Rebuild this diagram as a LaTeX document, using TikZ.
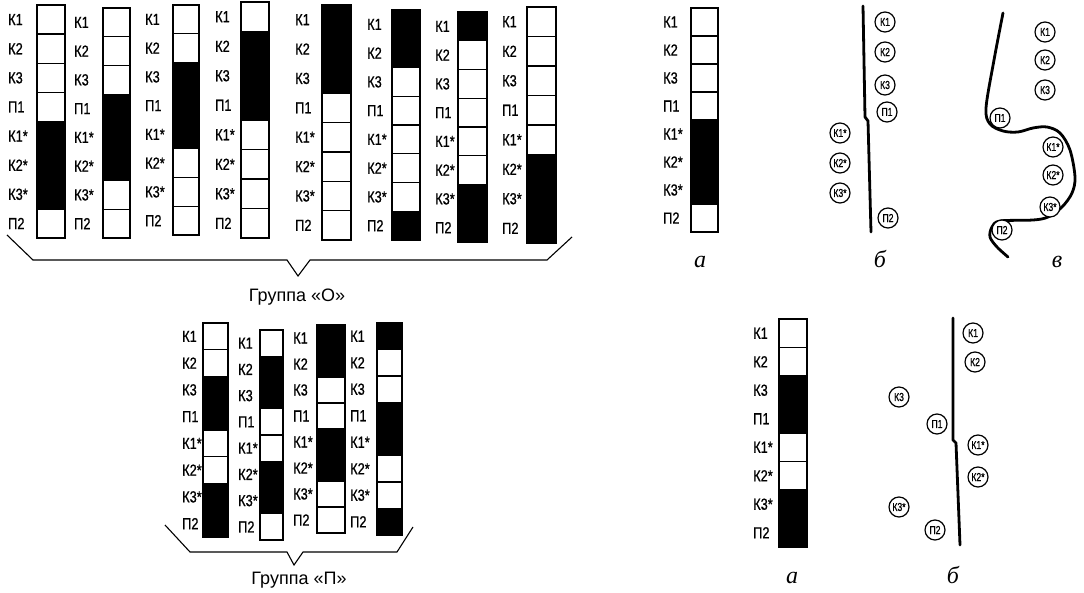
\documentclass[tikz,border=0pt]{standalone}
\usepackage{fontspec}
\setmainfont{Liberation Sans}
\newfontfamily\lblfont[FakeStretch=0.8,FakeBold=0.8]{Liberation Sans}
\newfontfamily\cfont[FakeStretch=0.75,FakeBold=0.8]{Liberation Sans}
\newfontfamily\itfont{Liberation Serif}
\tikzset{
  cell/.style={draw=black, line width=1.4pt},
  lbl/.style={anchor=west, inner sep=0pt, font=\lblfont\fontsize{16}{16}\selectfont},
  circ/.style={circle, draw=black, line width=1.2pt, fill=white, minimum size=20pt, inner sep=0pt, font=\cfont\fontsize{11.5}{11.5}\selectfont},
  fold/.style={line width=2.8pt, line cap=round, line join=round},
  brace/.style={line width=1.1pt, line join=miter},
  grp/.style={font=\fontsize{18}{18}\selectfont, inner sep=0pt},
  letter/.style={font=\itfont\itshape\fontsize{24}{24}\selectfont, anchor=base, inner sep=0pt},
}
% #1 x0, #2 x1, #3 ytop, #4 ybot, #5 label x, #6 pattern, #7 name
\newcommand{\stripcol}[7]{%
  \foreach \v [count=\i] in {#6} {%
    \pgfmathsetmacro{\ya}{#3+(\i-1)*(#4-#3)/8}%
    \pgfmathsetmacro{\yb}{#3+\i*(#4-#3)/8}%
    \ifnum\v=1 \filldraw[cell,fill=black] (#1,\ya) rectangle (#2,\yb);\else \draw[cell,fill=white] (#1,\ya) rectangle (#2,\yb);\fi
  }%
  \foreach \t [count=\i] in {К1,К2,К3,П1,К1*,К2*,К3*,П2} {%
    \pgfmathsetmacro{\yc}{#3+(\i-0.5)*(#4-#3)/8}%
    \node[lbl] (#7l\i) at (#5,\yc) {\t};
  }%
}
\begin{document}
\begin{tikzpicture}[x=1pt,y=-1pt]
\useasboundingbox (0,0) rectangle (1084,593);
\fill[white] (0,0) rectangle (1084,593);

% Group O
\stripcol{37}{65}{5}{238}{8}{0,0,0,0,1,1,1,0}{oa}
\stripcol{103}{130}{8}{238}{74}{0,0,0,1,1,1,0,0}{ob}
\stripcol{173}{199}{5}{235}{145}{0,0,1,1,1,0,0,0}{oc}
\stripcol{241}{269}{2}{238}{215}{0,1,1,1,0,0,0,0}{od}
\stripcol{322}{351}{5}{240}{295}{1,1,1,0,0,0,0,0}{oe}
\stripcol{392}{420}{10}{240}{367}{1,1,0,0,0,0,0,1}{of}
\stripcol{458}{487}{12}{242}{435}{1,0,0,0,0,0,1,1}{og}
\stripcol{527}{556}{7}{243}{502}{0,0,0,0,0,1,1,1}{oh}
\draw[brace] (7,235) -- (33,260) -- (287,260) -- (298,276) -- (310,260) -- (547,260) -- (572,237);
\node[grp] (go) at (297,297) {Группа «О»};

% Group P
\stripcol{203}{228}{323}{537}{182}{0,0,1,1,0,0,1,1}{pa}
\stripcol{260}{283}{330}{540}{238}{0,1,1,0,0,1,1,0}{pb}
\stripcol{317}{345}{325}{533}{293}{1,1,0,0,1,1,0,0}{pc}
\stripcol{377}{402}{323}{535}{350}{1,0,0,1,1,0,0,1}{pd}
\draw[brace] (165,525) -- (190,552) -- (287,552) -- (294,565) -- (303,552) -- (397,552) -- (413,527);
\node[grp] (gp) at (299,580) {Группа «П»};

% Right top: a
\stripcol{691}{718}{8}{232}{663}{0,0,0,0,1,1,1,0}{ra}
\node[letter] (la1) at (700,268) {а};

% Right top: b
\draw[fold] (863,6) -- (865,117) -- (868,121) -- (871,232);
\node[circ] (tb1) at (885,22) {К1};
\node[circ] (tb2) at (885,52) {К2};
\node[circ] (tb3) at (885,85) {К3};
\node[circ] (tb4) at (887,112) {П1};
\node[circ] (tb5) at (840,133) {К1*};
\node[circ] (tb6) at (840,163) {К2*};
\node[circ] (tb7) at (840,193) {К3*};
\node[circ] (tb8) at (888,218) {П2};
\node[letter] (lb1) at (880,268) {б};

% Right top: v
\draw[fold] plot[smooth, tension=0.55] coordinates {(1003,13) (994,60) (986,108) (990,124) (1003,131) (1018,132) (1033,128) (1047,127) (1060,133) (1070,150) (1075,177) (1072,193) (1062,207) (1048,217) (1033,220) (1000,221) (992,227) (990,237) (997,247) (1008,257)};
\node[circ] (tc1) at (1045,32) {К1};
\node[circ] (tc2) at (1045,60) {К2};
\node[circ] (tc3) at (1045,90) {К3};
\node[circ] (tc4) at (1000,118) {П1};
\node[circ] (tc5) at (1053,147) {К1*};
\node[circ] (tc6) at (1053,175) {К2*};
\node[circ] (tc7) at (1050,207) {К3*};
\node[circ] (tc8) at (1002,230) {П2};
\node[letter] (lv1) at (1057,268) {в};

% Right bottom: a
\stripcol{779}{807}{319}{547}{753}{0,0,1,1,0,0,1,1}{rb}
\node[letter] (la2) at (792,583) {а};

% Right bottom: b
\draw[fold] (953,318) -- (953,440) -- (956,443) -- (960,545);
\node[circ] (bb1) at (973,333) {К1};
\node[circ] (bb2) at (975,362) {К2};
\node[circ] (bb3) at (899,397) {К3};
\node[circ] (bb4) at (937,424) {П1};
\node[circ] (bb5) at (978,445) {К1*};
\node[circ] (bb6) at (978,477) {К2*};
\node[circ] (bb7) at (899,507) {К3*};
\node[circ] (bb8) at (935,530) {П2};
\node[letter] (lb2) at (953,583) {б};
\end{tikzpicture}
\end{document}
